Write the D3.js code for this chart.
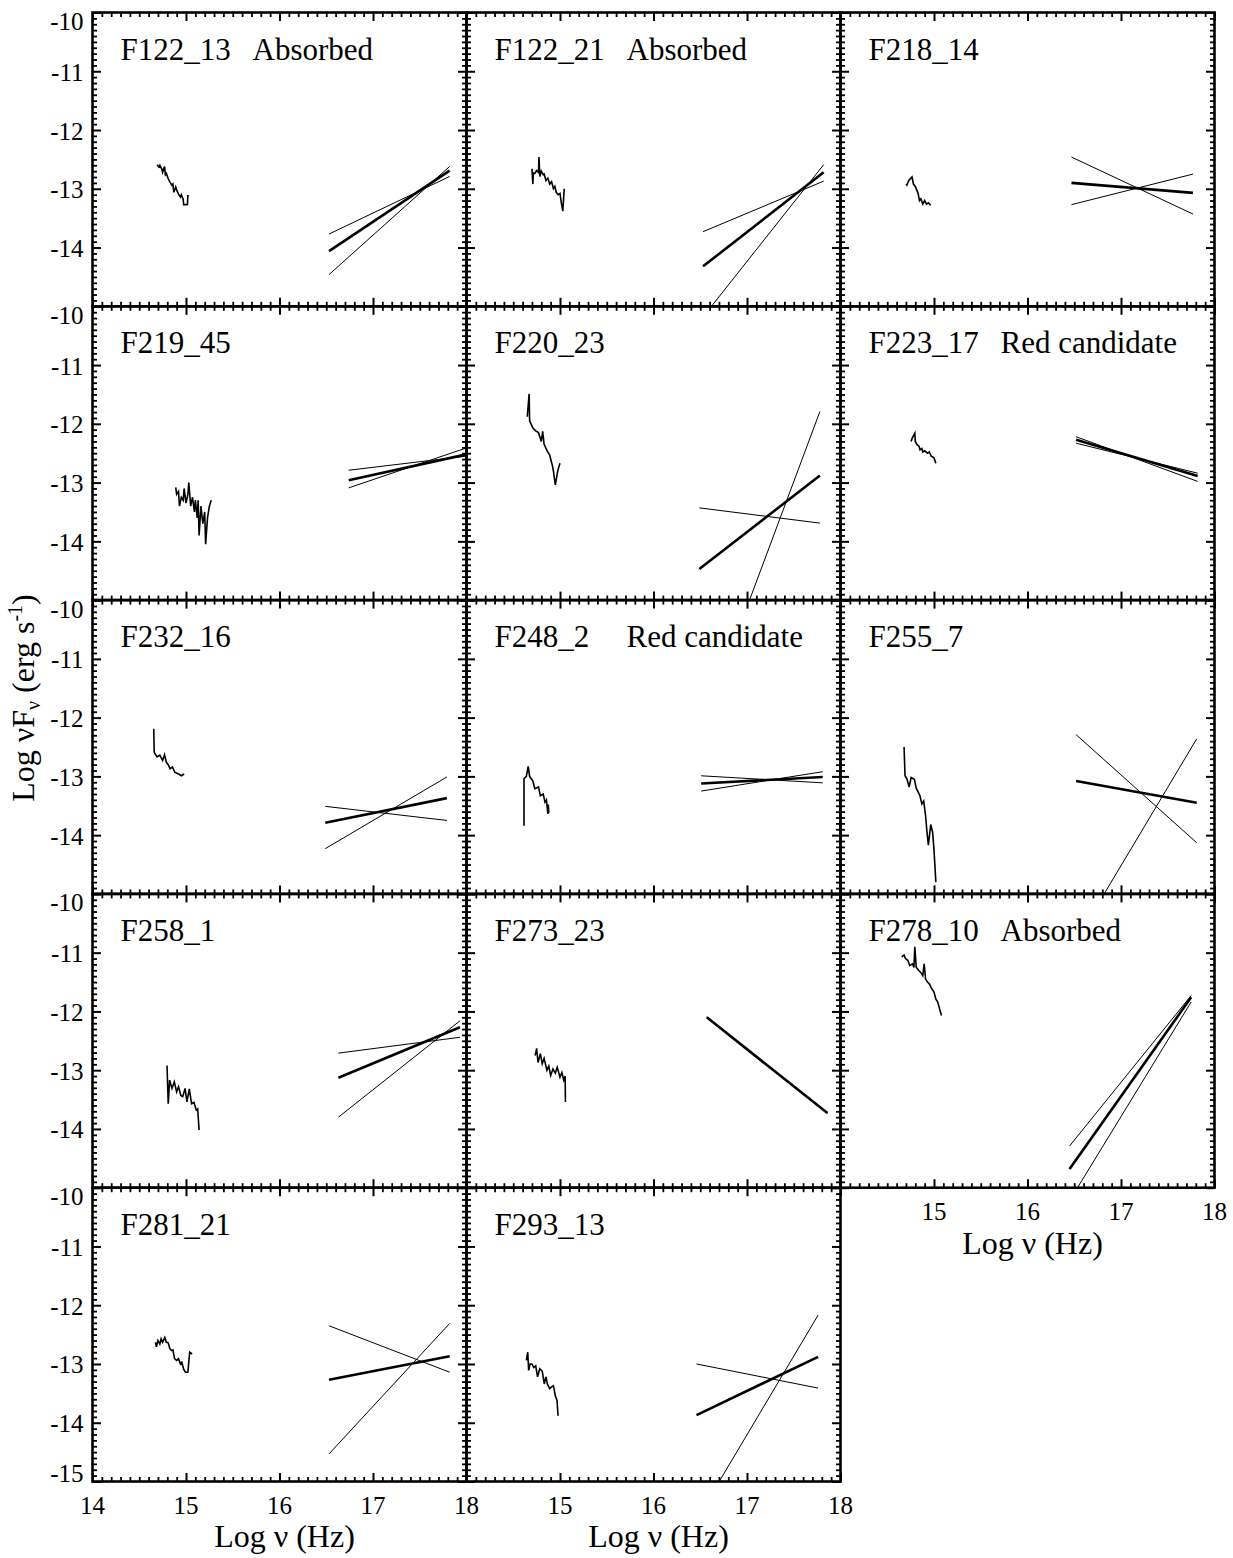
<!DOCTYPE html>
<html>
<head>
<meta charset="utf-8">
<script src="https://cdn.jsdelivr.net/npm/d3@7"></script>
<style>
  body { margin: 0; background: #fff; }
  text { font-family: "Liberation Serif", "Times New Roman", serif; fill: #000; }
</style>
</head>
<body>
<svg id="chart"></svg>
<script>
// source names and labels, one per panel (row by row)
var panelNames = ["F122_13", "F122_21", "F218_14", "F219_45", "F220_23", "F223_17", "F232_16",
                  "F248_2", "F255_7", "F258_1", "F273_23", "F278_10", "F281_21", "F293_13"];
var panelTags = ["Absorbed", "Absorbed", "", "", "", "Red candidate", "",
                 "Red candidate", "", "", "", "Absorbed", "", ""];

// optical spectra: [log nu, log nuFnu]
var opticalSpectra = [
  [[14.69,-12.59],[14.71,-12.63],[14.72,-12.6],[14.74,-12.66],[14.75,-12.72],[14.77,-12.62],[14.78,-12.76],[14.79,-12.74],[14.81,-12.83],[14.83,-12.89],[14.85,-12.94],[14.86,-12.92],[14.87,-13.06],[14.89,-12.97],[14.9,-13.02],[14.92,-13.09],[14.94,-13.14],[14.95,-13.1],[14.97,-13.18],[14.975,-13.27],[15.015,-13.27],[15.02,-13.12],[15.03,-13.12]],
  [[14.70,-12.66],[14.71,-12.92],[14.715,-12.73],[14.73,-12.74],[14.75,-12.69],[14.77,-12.72],[14.775,-12.46],[14.785,-12.79],[14.8,-12.7],[14.82,-12.76],[14.83,-12.75],[14.85,-12.86],[14.87,-12.82],[14.89,-12.92],[14.91,-12.88],[14.93,-13.0],[14.945,-12.96],[14.96,-13.06],[14.98,-13.1],[15.0,-13.08],[15.015,-13.25],[15.03,-13.38],[15.045,-13.0]],
  [[14.70,-12.92],[14.71,-12.94],[14.73,-12.86],[14.765,-12.8],[14.78,-12.92],[14.8,-12.96],[14.82,-13.04],[14.83,-13.08],[14.845,-13.2],[14.86,-13.17],[14.88,-13.26],[14.9,-13.2],[14.92,-13.26],[14.94,-13.24],[14.965,-13.28]],
  [[14.89,-13.08],[14.9,-13.2],[14.92,-13.15],[14.93,-13.4],[14.95,-13.25],[14.97,-13.3],[14.98,-13.1],[15.0,-13.35],[15.02,-13.2],[15.03,-13.0],[15.05,-13.4],[15.07,-13.25],[15.09,-13.5],[15.1,-13.3],[15.12,-13.6],[15.13,-13.3],[15.14,-13.9],[15.16,-13.4],[15.18,-13.7],[15.2,-13.5],[15.21,-14.05],[15.23,-13.6],[15.25,-13.4],[15.27,-13.3]],
  [[14.65,-11.88],[14.67,-11.49],[14.675,-11.95],[14.71,-12.07],[14.74,-12.12],[14.77,-12.15],[14.79,-12.25],[14.8,-12.30],[14.815,-12.13],[14.83,-12.35],[14.865,-12.47],[14.89,-12.53],[14.9,-12.6],[14.92,-12.72],[14.93,-12.81],[14.95,-13.04],[14.975,-12.81],[14.99,-12.72],[15.0,-12.67]],
  [[14.755,-12.3],[14.765,-12.25],[14.795,-12.16],[14.8,-12.3],[14.82,-12.36],[14.84,-12.38],[14.85,-12.44],[14.87,-12.42],[14.88,-12.48],[14.9,-12.46],[14.93,-12.5],[14.95,-12.48],[14.97,-12.55],[15.0,-12.58],[15.02,-12.67]],
  [[14.655,-12.19],[14.66,-12.59],[14.69,-12.67],[14.72,-12.64],[14.75,-12.73],[14.77,-12.63],[14.79,-12.76],[14.81,-12.8],[14.83,-12.87],[14.855,-12.84],[14.88,-12.93],[14.92,-12.96],[14.95,-12.99],[14.98,-12.96]],
  [[14.615,-13.84],[14.615,-13.04],[14.64,-13.0],[14.66,-12.83],[14.675,-13.0],[14.71,-13.08],[14.73,-13.21],[14.77,-13.18],[14.79,-13.33],[14.82,-13.3],[14.84,-13.44],[14.855,-13.4],[14.87,-13.64],[14.875,-13.48],[14.88,-13.62]],
  [[14.68,-12.5],[14.69,-12.99],[14.71,-13.04],[14.735,-13.18],[14.755,-13.02],[14.79,-13.05],[14.81,-13.2],[14.85,-13.33],[14.87,-13.47],[14.89,-13.42],[14.91,-13.67],[14.925,-13.95],[14.94,-14.17],[14.965,-13.82],[14.985,-13.95],[15.0,-14.25],[15.02,-14.8]],
  [[14.797,-12.92],[14.81,-13.57],[14.825,-13.17],[14.85,-13.31],[14.875,-13.2],[14.9,-13.37],[14.92,-13.28],[14.945,-13.43],[14.965,-13.45],[14.99,-13.31],[15.01,-13.54],[15.035,-13.32],[15.06,-13.57],[15.085,-13.55],[15.11,-13.68],[15.125,-13.66],[15.14,-14.02]],
  [[14.734,-12.75],[14.75,-12.63],[14.765,-12.87],[14.79,-12.72],[14.81,-12.89],[14.83,-12.8],[14.86,-13.0],[14.88,-12.93],[14.9,-13.09],[14.925,-12.98],[14.95,-13.05],[14.97,-12.95],[15.0,-13.12],[15.02,-13.04],[15.04,-13.17],[15.055,-13.1],[15.058,-13.54]],
  [[14.655,-11.07],[14.68,-11.04],[14.695,-11.1],[14.72,-11.13],[14.74,-11.22],[14.77,-11.19],[14.785,-11.25],[14.795,-10.9],[14.81,-11.25],[14.835,-11.3],[14.86,-11.34],[14.88,-11.39],[14.895,-11.19],[14.91,-11.45],[14.93,-11.5],[14.95,-11.53],[14.975,-11.61],[15.0,-11.67],[15.02,-11.79],[15.04,-11.84],[15.06,-11.96],[15.08,-12.07]],
  [[14.673,-12.63],[14.684,-12.71],[14.7,-12.6],[14.72,-12.66],[14.734,-12.57],[14.75,-12.63],[14.773,-12.55],[14.79,-12.63],[14.81,-12.64],[14.827,-12.74],[14.845,-12.77],[14.86,-12.76],[14.877,-12.91],[14.9,-12.94],[14.92,-12.91],[14.941,-13.0],[14.955,-12.97],[14.975,-13.09],[14.994,-13.14],[15.02,-13.14],[15.033,-12.91],[15.04,-12.8],[15.065,-12.83]],
  [[14.64,-12.94],[14.655,-12.8],[14.665,-13.11],[14.68,-13.0],[14.7,-13.0],[14.72,-13.06],[14.74,-13.03],[14.76,-13.22],[14.783,-13.08],[14.81,-13.12],[14.832,-13.34],[14.85,-13.22],[14.865,-13.34],[14.889,-13.42],[14.91,-13.39],[14.93,-13.37],[14.95,-13.54],[14.968,-13.62],[14.979,-13.88]]
];

// X-ray power laws: nu range, then log nuFnu at both ends
var xrayNu = [[16.53,17.82],[16.53,17.82],[16.47,17.77],[16.74,18.0],[16.49,17.78],[16.52,17.82],[16.49,17.79],
              [16.51,17.81],[16.52,17.81],[16.63,17.93],[16.57,17.86],[16.45,17.75],[16.53,17.82],[16.46,17.76]];
var xrayBest = [[-14.06,-12.69],[-14.32,-12.72],[-12.90,-13.07],[-12.96,-12.52],[-14.47,-12.88],[-12.27,-12.89],[-13.79,-13.37],
                [-13.12,-13.01],[-13.08,-13.45],[-13.13,-12.27],[-12.10,-13.73],[-14.68,-11.76],[-13.27,-12.87],[-13.87,-12.88]];
var xrayLow = [[-13.77,-12.79],[-13.73,-12.87],[-12.46,-13.43],[-12.79,-12.55],[-13.43,-13.69],[-12.22,-12.98],[-13.51,-13.75],
               [-12.99,-13.11],[-12.29,-14.13],[-12.71,-12.44],[-12.10,-13.73],[-14.29,-11.73],[-12.35,-13.14],[-13.00,-13.41]];
var xrayHigh = [[-14.46,-12.62],[-15.18,-12.59],[-13.27,-12.75],[-13.09,-12.41],[-17.29,-11.79],[-12.33,-12.84],[-14.23,-13.01],
                [-13.25,-12.92],[-15.80,-12.36],[-13.80,-12.16],[-12.10,-13.73],[-15.22,-11.84],[-14.53,-12.31],[-15.65,-12.17]];

var xTicks = [14, 15, 16, 17, 18];
var yTicks = [-10, -11, -12, -13, -14, -15];

var width = 1233, height = 1558;
var left0 = 92.5, top0 = 12.5, pw = 374, ph = 293.8;

var svg = d3.select("#chart")
    .attr("width", width)
    .attr("height", height);

svg.append("rect").attr("width", width).attr("height", height).attr("fill", "#fff");

var x = d3.scaleLinear().domain([14, 18]).range([0, pw]);
var y = d3.scaleLinear().domain([-10, -15]).range([0, ph]);

var xMinor = d3.range(141, 180).filter(k => k % 10).map(k => k / 10);
var yMinor = d3.range(101, 150).filter(k => k % 10).map(k => -k / 10);

var line = d3.line().x(d => x(d[0])).y(d => y(d[1]));

function tickStyle(sel, w) {
    sel.select(".domain").remove();
    sel.selectAll(".tick line").attr("stroke", "#000").attr("stroke-width", w);
    sel.selectAll(".tick text").remove();
}

panelNames.forEach(function (name, i) {
    var row = Math.floor(i / 3), col = i % 3;
    var g = svg.append("g")
        .attr("transform", `translate(${left0 + col * pw},${top0 + row * ph})`);

    g.append("clipPath").attr("id", "clip" + i)
        .append("rect").attr("width", pw).attr("height", ph);

    // ticks, all pointing into the box
    var axes = [
        [d3.axisLeft(y), yTicks, yMinor, "translate(0,0)"],
        [d3.axisRight(y), yTicks, yMinor, `translate(${pw},0)`],
        [d3.axisTop(x), xTicks, xMinor, "translate(0,0)"],
        [d3.axisBottom(x), xTicks, xMinor, `translate(0,${ph})`]
    ];
    axes.forEach(a => {
        g.append("g").attr("transform", a[3])
            .call(a[0].tickValues(a[2]).tickSize(-4.5).tickSizeOuter(0))
            .call(s => tickStyle(s, 1.8));
        g.append("g").attr("transform", a[3])
            .call(a[0].tickValues(a[1]).tickSize(-8.5).tickSizeOuter(0))
            .call(s => tickStyle(s, 2));
    });

    g.append("rect")
        .attr("width", pw).attr("height", ph)
        .attr("fill", "none").attr("stroke", "#000").attr("stroke-width", 2.6);

    var plot = g.append("g").attr("clip-path", `url(#clip${i})`);

    plot.append("path")
        .datum(opticalSpectra[i])
        .attr("d", line)
        .attr("fill", "none").attr("stroke", "#000").attr("stroke-width", 1.6)
        .attr("stroke-linejoin", "miter");

    var fits = [[xrayLow[i], 1], [xrayHigh[i], 1], [xrayBest[i], 2.6]];
    fits.forEach(f => {
        plot.append("path")
            .datum([[xrayNu[i][0], f[0][0]], [xrayNu[i][1], f[0][1]]])
            .attr("d", line)
            .attr("fill", "none").attr("stroke", "#000").attr("stroke-width", f[1]);
    });

    g.append("text")
        .attr("x", 28).attr("y", 47)
        .attr("font-size", 31)
        .text(name);
    if (panelTags[i]) {
        g.append("text")
            .attr("x", 160).attr("y", 47)
            .attr("font-size", 31)
            .text(panelTags[i]);
    }

    // y tick labels on the left column
    if (col == 0) {
        var last = (i == 12);
        yTicks.filter(v => v != -15 || last).forEach(v => {
            var c = y(v) + 1;
            if (v == -10) c = 9;
            if (v == -15) c = ph - 8;
            g.append("text")
                .attr("x", -9).attr("y", c + 8.5)
                .attr("text-anchor", "end")
                .attr("font-size", 25)
                .text(v);
        });
    }

    // x tick labels and title under the lowest panel of each column
    if (i >= 11) {
        xTicks.filter(v => v != 14 || col == 0).forEach(v => {
            g.append("text")
                .attr("x", x(v)).attr("y", ph + 32.5)
                .attr("text-anchor", "middle")
                .attr("font-size", 25)
                .text(v);
        });
        g.append("text")
            .attr("x", pw / 2 + 5).attr("y", ph + 66)
            .attr("text-anchor", "middle")
            .attr("font-size", 32)
            .text("Log \u03bd (Hz)");
    }
});

var ylab = svg.append("text")
    .attr("transform", "translate(34,698) rotate(-90)")
    .attr("text-anchor", "middle")
    .attr("font-size", 32);
ylab.append("tspan").text("Log \u03bdF");
ylab.append("tspan").attr("font-size", 20).attr("dy", 6).text("\u03bd");
ylab.append("tspan").attr("dy", -6).text(" (erg s");
ylab.append("tspan").attr("font-size", 20).attr("dy", -12).text("-1");
ylab.append("tspan").attr("dy", 12).text(")");
</script>
</body>
</html>
